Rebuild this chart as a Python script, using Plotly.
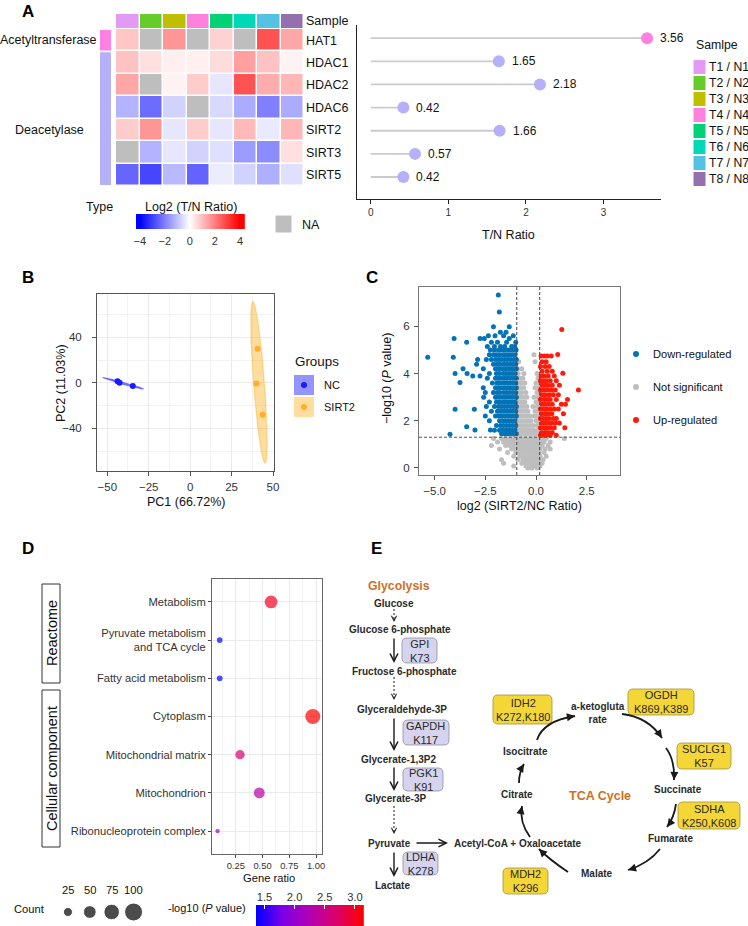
import numpy as np
import plotly.graph_objects as go

W, H = 748, 926
FONT = "Liberation Sans, Arial, Helvetica, sans-serif"
TXT = "#222222"
TICK = "#333333"


def fx(p):
    return p / W


def fy(p):
    return max(0.0, min(1.0, 1 - p / H))


# ======================= Panel A data =======================
samples = ["T1 / N1", "T2 / N2", "T3 / N3", "T4 / N4", "T5 / N5", "T6 / N6", "T7 / N7", "T8 / N8"]
sample_colors = ["#E39AF5", "#66CC2A", "#BFBF00", "#FF80DD", "#00D275", "#00D9B8", "#55C1E3", "#9370AE"]
genes = ["HAT1", "HDAC1", "HDAC2", "HDAC6", "SIRT2", "SIRT3", "SIRT5"]
gene_types = ["Acetyltransferase", "Deacetylase", "Deacetylase", "Deacetylase",
              "Deacetylase", "Deacetylase", "Deacetylase"]
type_names = ["Acetyltransferase", "Deacetylase"]
type_colors = ["#FF80E3", "#B5B0F7"]
log2_tn = [
    [0.9, None, 1.65, None, 0.7, None, 2.7, 1.4],
    [0.95, 0.5, 0.25, 0.25, 0.55, 1.5, 0.95, 0.2],
    [1.4, None, 0.2, 0.8, -0.4, 2.7, 1.3, 1.15],
    [-1.2, -2.3, -0.7, None, -0.6, -1.3, -2.0, -1.3],
    [0.8, 1.65, -0.4, 0.8, -0.4, 1.1, -0.35, 1.15],
    [None, -1.2, -0.4, -0.7, -0.5, -1.55, -1.8, 0.5],
    [-2.4, -2.9, -1.1, -2.45, -0.3, -0.7, -1.25, -0.5],
]
tn_ratio = [3.56, 1.65, 2.18, 0.42, 1.66, 0.57, 0.42]
heat_ticks = [-4, -2, 0, 2, 4]
NA_COLOR = "#BEBEBE"

# ======================= Panel B data =======================
pc_group_names = ["NC", "SIRT2"]
pc_group_colors = ["#1A1AFF", "#FFAE2E"]
pc_group_fill = ["rgba(0,0,255,0.42)", "rgba(255,165,0,0.38)"]
pc1_nc = [-43.8, -42.6, -34.6]
pc2_nc = [1.4, 0.2, -2.6]
pc1_sirt2 = [40.7, 40.0, 43.8]
pc2_sirt2 = [30.0, -0.5, -28.0]

# ======================= Panel C data =======================
down_rows = [
    (7.33, [-1.86]), (6.61, [-1.81]), (5.99, [-2.10, -1.32]),
    (5.75, [-1.48, -1.76]),
    (5.60, [-2.35, -2.02, -1.60, -1.12]),
    (5.49, [-4.04, -2.76, -2.55, -1.32]),
    (5.33, [-3.42, -2.20, -1.90, -1.45, -1.00]),
    (5.15, [-2.40, -2.05, -1.75, -1.55, -1.20, -1.05]),
    (5.00, [-2.25, -2.05, -1.85, -1.70, -1.55, -1.40, -1.25, -1.10, -0.98]),
    (4.80, [-2.30, -2.10, -1.95, -1.80, -1.62, -1.48, -1.33, -1.18, -1.03]),
    (4.69, [-5.34, -4.08]),
    (4.60, [-2.88, -2.45, -2.20, -2.00, -1.85, -1.70, -1.55, -1.40, -1.25, -1.10, -0.97]),
    (4.40, [-2.93, -2.10, -1.92, -1.78, -1.60, -1.45, -1.30, -1.15, -1.00]),
    (4.20, [-3.60, -2.60, -2.00, -1.85, -1.70, -1.55, -1.40, -1.25, -1.10, -0.97]),
    (4.00, [-3.99, -3.40, -2.30, -1.95, -1.80, -1.62, -1.48, -1.33, -1.18, -1.03]),
    (3.90, [-3.12, -2.76]),
    (3.80, [-2.40, -2.00, -1.85, -1.70, -1.55, -1.40, -1.25, -1.10, -0.97]),
    (3.62, [-3.75]),
    (3.60, [-2.15, -1.92, -1.78, -1.60, -1.45, -1.30, -1.15, -1.00]),
    (3.40, [-2.60, -2.00, -1.85, -1.70, -1.55, -1.40, -1.25, -1.10, -0.97]),
    (3.20, [-2.50, -2.10, -1.92, -1.78, -1.60, -1.45, -1.30, -1.15, -1.00]),
    (3.00, [-2.58, -2.00, -1.85, -1.70, -1.55, -1.40, -1.25, -1.10, -0.97]),
    (2.80, [-2.30, -1.95, -1.80, -1.62, -1.48, -1.33, -1.18, -1.03]),
    (2.60, [-2.45, -2.05, -1.85, -1.70, -1.55, -1.40, -1.25, -1.10, -0.97]),
    (2.49, [-3.99, -3.04]),
    (2.40, [-2.20, -1.90, -1.75, -1.60, -1.45, -1.30, -1.15, -1.00]),
    (2.20, [-2.50, -2.00, -1.85, -1.70, -1.55, -1.40, -1.25, -1.10, -0.97]),
    (2.00, [-2.30, -1.80, -1.65, -1.50, -1.35, -1.20, -1.05]),
    (1.80, [-1.95, -1.75, -1.60, -1.45, -1.30, -1.15, -1.00]),
    (1.75, [-3.42]),
    (1.61, [-3.01, -2.25]),
    (1.60, [-2.05, -1.80, -1.65, -1.50, -1.35, -1.20, -1.05]),
    (1.45, [-1.70, -1.55, -1.40, -1.25, -1.10, -0.97]),
    (1.43, [-4.24]),
]
ns_rows = [
    (4.80, [-0.10]),
    (4.50, [-0.85, -0.05]),
    (4.20, [-0.90, -0.70]),
    (4.00, [-0.88, -0.60, 0.05]),
    (3.80, [-0.80, -0.65, 0.10]),
    (3.60, [-0.85, -0.72, -0.55, 0.00, 0.12]),
    (3.40, [-0.90, -0.75, -0.60, -0.05, 0.10]),
    (3.20, [-0.85, -0.70, -0.50, 0.05, 0.15]),
    (3.00, [-0.90, -0.75, -0.60, -0.45, -0.10, 0.08]),
    (2.80, [-0.85, -0.70, -0.55, 0.00, 0.12]),
    (2.60, [-0.90, -0.75, -0.60, -0.45, -0.15, 0.05, 0.15]),
    (2.40, [-0.85, -0.70, -0.55, -0.40, -0.05, 0.10]),
    (2.20, [-0.90, -0.75, -0.60, -0.45, -0.30, -0.10, 0.05, 0.15]),
    (2.00, [-0.85, -0.70, -0.55, -0.40, -0.25, 0.00, 0.12]),
    (1.80, [-0.90, -0.75, -0.60, -0.45, -0.30, -0.15, 0.05, 0.15]),
    (1.60, [-0.85, -0.70, -0.55, -0.40, -0.25, -0.10, 0.10]),
    (1.45, [-0.90, -0.75, -0.60, -0.45, -0.30, -0.15, 0.00, 0.15]),
    (1.25, [-2.10, -1.70, -1.50, -1.30, -1.10, -0.90, -0.70, -0.50, -0.30, -0.10, 0.10, 0.30, 0.50, 1.40]),
    (1.10, [-1.90, -1.60, -1.40, -1.20, -1.00, -0.80, -0.60, -0.40, -0.20, 0.00, 0.20, 0.40, 0.70]),
    (0.95, [-2.20, -1.50, -1.30, -1.10, -0.90, -0.70, -0.50, -0.30, -0.10, 0.10, 0.30, 0.60]),
    (0.80, [-1.80, -1.20, -1.00, -0.80, -0.60, -0.40, -0.20, 0.00, 0.20, 0.45, 0.70]),
    (0.65, [-1.40, -1.00, -0.85, -0.65, -0.45, -0.25, -0.05, 0.15, 0.40]),
    (0.50, [-1.10, -0.80, -0.60, -0.40, -0.20, 0.00, 0.20, 0.50]),
    (0.35, [-1.70, -0.90, -0.65, -0.45, -0.25, -0.05, 0.15, 0.35]),
    (0.20, [-1.60, -0.70, -0.50, -0.30, -0.10, 0.10, 0.30]),
    (0.08, [-1.10, -0.50, -0.30, -0.15, 0.00, 0.20]),
    (0.00, [-0.40, -0.20, 0.05]),
]
up_rows = [
    (5.87, [1.27]),
    (4.81, [1.07]),
    (4.75, [0.25, 0.40, 0.55, 0.75]),
    (4.50, [0.30, 0.50]),
    (4.30, [0.22, 0.45, 0.65]),
    (4.10, [0.30, 0.55, 0.80]),
    (4.01, [1.32]),
    (3.90, [0.25, 0.40, 0.60, 0.90]),
    (3.70, [0.22, 0.35, 0.50, 0.70, 1.00]),
    (3.50, [0.30, 0.45, 0.60, 0.80, 1.15]),
    (3.30, [0.22, 0.38, 0.55, 0.75, 0.95, 2.09]),
    (3.10, [0.28, 0.45, 0.65, 0.85, 1.10]),
    (2.90, [0.22, 0.40, 0.55, 0.70, 1.00, 1.55]),
    (2.70, [0.30, 0.45, 0.62, 0.80, 1.25, 1.45]),
    (2.50, [0.22, 0.38, 0.52, 0.70, 0.90, 1.10]),
    (2.30, [0.28, 0.45, 0.60, 0.78, 1.35]),
    (2.10, [0.22, 0.35, 0.50, 0.65, 0.85, 1.00]),
    (1.90, [0.30, 0.45, 0.60, 0.75, 0.95, 1.15]),
    (1.70, [0.22, 0.38, 0.52, 0.70, 0.90, 1.42]),
    (1.50, [0.28, 0.45, 0.60, 0.80]),
    (1.38, [0.22, 0.35, 0.50, 0.70, 1.00]),
]
volcano_classes = ["Down-regulated", "Not significant", "Up-regulated"]
volcano_colors = ["#0373B8", "#BEBEBE", "#FF1A0A"]
fc_down, fc_up, p_cut = -0.95, 0.18, 1.301

# ======================= Panel D data =======================
terms = ["Metabolism", "Pyruvate metabolism<br>and TCA cycle", "Fatty acid metabolism",
         "Cytoplasm", "Mitochondrial matrix", "Mitochondrion", "Ribonucleoprotein complex"]
term_db = ["Reactome", "Reactome", "Reactome", "Cellular component", "Cellular component",
           "Cellular component", "Cellular component"]
gene_ratio = [0.58, 0.10, 0.10, 0.97, 0.29, 0.47, 0.08]
term_count = [50, 10, 10, 70, 27, 37, 6]
term_nlogp = [3.00, 1.36, 1.36, 3.15, 2.65, 2.32, 2.05]
count_legend = [25, 50, 75, 100]
nlogp_ticks = [1.5, 2.0, 2.5, 3.0]
DOT_CS = [[0, "#0000FF"], [0.25, "#7D00E6"], [0.5, "#B200B2"], [0.75, "#DB0068"], [1, "#FF0000"]]

# ======================= Panel E data =======================
glyco_nodes = [("Glucose", 394, 603), ("Glucose 6-phosphate", 400, 629), ("Fructose 6-phosphate", 404, 671),
               ("Glyceraldehyde-3P", 402, 709), ("Glycerate-1,3P2", 398, 759), ("Glycerate-3P", 395, 798),
               ("Pyruvate", 389, 843), ("Lactate", 392, 885), ("Acetyl-CoA + Oxaloacetate", 518, 843)]
tca_nodes = [("a-ketogluta<br>rate", 598, 713), ("Isocitrate", 525, 751), ("Citrate", 517, 794),
             ("Succinate", 678, 789), ("Fumarate", 670, 838), ("Malate", 597, 873)]
glyco_enzymes = [("GPI", "K73"), ("GAPDH", "K117"), ("PGK1", "K91"), ("LDHA", "K278")]
tca_enzymes = [("IDH2", "K272,K180"), ("OGDH", "K869,K389"), ("SUCLG1", "K57"),
               ("SDHA", "K250,K608"), ("MDH2", "K296")]

# ============================================================
fig = go.Figure()
HM_CS = [[0, "#0000FF"], [0.5, "#FFFFFF"], [1, "#FF0000"]]

# --- A: heatmap
fig.add_trace(go.Heatmap(z=log2_tn, x=samples, y=genes, colorscale=HM_CS, zmin=-4, zmax=4,
                         xgap=1.5, ygap=1.5, showscale=False, xaxis="x", yaxis="y", hoverongaps=False))
na_mask = [[1 if v is None else None for v in row] for row in log2_tn]
fig.add_trace(go.Heatmap(z=na_mask, x=samples, y=genes, colorscale=[[0, NA_COLOR], [1, NA_COLOR]],
                         zmin=0, zmax=1, xgap=1.5, ygap=1.5, showscale=False, xaxis="x", yaxis="y",
                         hoverongaps=False))
ns = len(samples)
fig.add_trace(go.Heatmap(z=[list(range(ns))], x=samples, y=["Sample"],
                         colorscale=[[i / (ns - 1), c] for i, c in enumerate(sample_colors)],
                         zmin=0, zmax=ns - 1, xgap=1.5, showscale=False, xaxis="x2", yaxis="y2"))
# A colour ramp legend
ramp_a = np.linspace(-4.3, 4.4, 300)
fig.add_trace(go.Heatmap(z=[ramp_a], x=ramp_a, y=[0], colorscale=HM_CS, zmin=-4, zmax=4,
                         showscale=False, xaxis="x7", yaxis="y7"))

# --- A: lollipop
seg_x, seg_y = [], []
for g, v in zip(genes, tn_ratio):
    seg_x += [0, v, None]
    seg_y += [g, g, None]
fig.add_trace(go.Scatter(x=seg_x, y=seg_y, mode="lines", line=dict(color="#CBCBCB", width=1.8),
                         xaxis="x3", yaxis="y3"))
tcol = dict(zip(type_names, type_colors))
fig.add_trace(go.Scatter(x=tn_ratio, y=genes, mode="markers",
                         marker=dict(size=12, color=[tcol[t] for t in gene_types], line=dict(width=0)),
                         xaxis="x3", yaxis="y3"))


# --- B: PCA
def conf_ellipse(xs, ys, k=2.4477, n=160):
    xs, ys = np.asarray(xs, float), np.asarray(ys, float)
    cov = np.cov(xs, ys)
    vals, vecs = np.linalg.eigh(cov)
    t = np.linspace(0, 2 * np.pi, n)
    circ = np.stack([np.cos(t), np.sin(t)])
    pts = vecs @ (np.sqrt(np.maximum(vals, 0))[:, None] * circ) * k
    return xs.mean() + pts[0], ys.mean() + pts[1]


for (px_, py_), fc, lc in zip([(pc1_nc, pc2_nc), (pc1_sirt2, pc2_sirt2)], pc_group_fill, pc_group_colors):
    ex, ey = conf_ellipse(px_, py_)
    fig.add_trace(go.Scatter(x=ex, y=ey, mode="lines", fill="toself", fillcolor=fc,
                             line=dict(color=fc, width=1.2), xaxis="x4", yaxis="y4"))
for (px_, py_), lc in zip([(pc1_nc, pc2_nc), (pc1_sirt2, pc2_sirt2)], pc_group_colors):
    fig.add_trace(go.Scatter(x=px_, y=py_, mode="markers", marker=dict(size=6, color=lc),
                             xaxis="x4", yaxis="y4"))


# --- C: volcano
def unroll(rows):
    xs, ys = [], []
    for y, xl in rows:
        xs += xl
        ys += [y] * len(xl)
    return xs, ys


for rows, col in zip([ns_rows, down_rows, up_rows], [volcano_colors[1], volcano_colors[0], volcano_colors[2]]):
    vx, vy = unroll(rows)
    fig.add_trace(go.Scatter(x=vx, y=vy, mode="markers", marker=dict(size=5, color=col, line=dict(width=0)),
                             xaxis="x5", yaxis="y5"))

# --- D: dot plot
dot_sizes = [1.8 * np.sqrt(c) for c in term_count]
cmin, cmax = min(term_nlogp), max(term_nlogp)
fig.add_trace(go.Scatter(x=gene_ratio, y=terms, mode="markers",
                         marker=dict(size=dot_sizes, sizemode="diameter", color=term_nlogp,
                                     colorscale=DOT_CS, cmin=cmin, cmax=cmax, showscale=False,
                                     line=dict(width=0)),
                         xaxis="x6", yaxis="y6"))
ramp_d = np.linspace(cmin, cmax, 300)
fig.add_trace(go.Heatmap(z=[ramp_d], x=ramp_d, y=[0], colorscale=DOT_CS, zmin=cmin, zmax=cmax,
                         showscale=False, xaxis="x8", yaxis="y8"))
fig.add_trace(go.Scatter(x=list(range(len(count_legend))), y=[0] * len(count_legend), mode="markers",
                         marker=dict(size=[1.8 * np.sqrt(c) for c in count_legend], color="black",
                                     sizemode="diameter"),
                         xaxis="x9", yaxis="y9"))

# ======================= axes =======================
tf = lambda s=11, c=TICK: dict(family=FONT, size=s, color=c)


def axis(domain, **kw):
    d = dict(domain=domain, showgrid=False, zeroline=False, showline=False, ticks="",
             tickfont=tf(), automargin=False)
    d.update(kw)
    return d


layout = dict(
    width=W, height=H, margin=dict(l=0, r=0, t=0, b=0), template="none",
    paper_bgcolor="white", plot_bgcolor="white", showlegend=False,
    font=dict(family=FONT, color=TXT),
)
layout["xaxis"] = axis([fx(116), fx(304)], anchor="y", visible=False, type="category")
layout["yaxis"] = axis([fy(186), fy(29)], anchor="x", side="right", type="category",
                       categoryorder="array", categoryarray=genes, autorange="reversed",
                       tickfont=tf(12.5, "#111"), ticklabelstandoff=1)
layout["xaxis2"] = axis([fx(116), fx(304)], anchor="y2", visible=False, type="category")
layout["yaxis2"] = axis([fy(28), fy(14)], anchor="x2", side="right", tickfont=tf(12.5, "#111"),
                        ticklabelstandoff=1)
layout["xaxis3"] = axis([fx(357), fx(661)], anchor="y3", range=[-0.178, 3.74], tickvals=[0, 1, 2, 3],
                        ticks="outside", ticklen=4, tickcolor="#222", showline=True, linecolor="#222",
                        linewidth=1.3, tickfont=tf(10))
layout["yaxis3"] = axis([fy(199), fy(25)], anchor="x3", type="category", categoryorder="array",
                        categoryarray=genes, range=[6.95, -0.57], showline=True, linecolor="#222",
                        linewidth=1.3, showticklabels=False)
grid = "#EBEBEB"
layout["xaxis4"] = axis([fx(97), fx(274)], anchor="y4", range=[-56.2, 50.6], tick0=0, dtick=25,
                        showgrid=True, gridcolor=grid, gridwidth=1,
                        minor=dict(dtick=12.5, tick0=0, showgrid=True, gridcolor=grid, gridwidth=0.6),
                        showline=True, mirror=True, linecolor="#555", linewidth=1,
                        ticks="outside", ticklen=4, tickcolor="#555", tickfont=tf(11.5), ticklabelstandoff=1)
layout["yaxis4"] = axis([fy(471), fy(294)], anchor="x4", range=[-77.4, 78.2], tick0=0, dtick=40,
                        showgrid=True, gridcolor=grid, gridwidth=1,
                        minor=dict(dtick=20, tick0=0, showgrid=True, gridcolor=grid, gridwidth=0.6),
                        showline=True, mirror=True, linecolor="#555", linewidth=1,
                        ticks="outside", ticklen=4, tickcolor="#555", tickfont=tf(11.5), ticklabelstandoff=8)
layout["xaxis5"] = axis([fx(419), fx(620)], anchor="y5", range=[-5.77, 4.14], tick0=0, dtick=2.5,
                        tickformat=".1f", showline=True, mirror=True, linecolor="#777", linewidth=1,
                        ticks="outside", ticklen=4, tickcolor="#555", tickfont=tf(11.5), ticklabelstandoff=1)
layout["yaxis5"] = axis([fy(475), fy(287)], anchor="x5", range=[-0.3, 7.67], tick0=0, dtick=2,
                        showline=True, mirror=True, linecolor="#777", linewidth=1,
                        ticks="outside", ticklen=4, tickcolor="#555", tickfont=tf(11.5), ticklabelstandoff=2)
layout["xaxis6"] = axis([fx(212), fx(322)], anchor="y6", range=[0.028, 1.056], tick0=0, dtick=0.25,
                        tickformat=".2f", showgrid=True, gridcolor=grid, gridwidth=1,
                        minor=dict(dtick=0.125, tick0=0, showgrid=True, gridcolor=grid, gridwidth=0.6),
                        showline=True, mirror=True, linecolor="#666", linewidth=1,
                        ticks="outside", ticklen=3, tickcolor="#444", tickfont=tf(9.4), ticklabelstandoff=0)
layout["yaxis6"] = axis([fy(854), fy(579)], anchor="x6", type="category", categoryorder="array",
                        categoryarray=terms, range=[6.6, -0.6], showgrid=True, gridcolor=grid, gridwidth=1,
                        showline=True, mirror=True, linecolor="#666", linewidth=1,
                        ticks="outside", ticklen=3, tickcolor="#444", tickfont=tf(11.2), ticklabelstandoff=0)
layout["xaxis7"] = axis([fx(136), fx(245)], anchor="y7", range=[-4.3, 4.4], tickvals=heat_ticks,
                        tickfont=tf(11), ticklabelstandoff=4)
layout["yaxis7"] = axis([fy(229), fy(214)], anchor="x7", visible=False)
layout["xaxis8"] = axis([fx(256), fx(364)], anchor="y8", range=[cmin, cmax], tickvals=nlogp_ticks,
                        tickformat=".1f", side="top", ticks="inside", ticklen=4, tickcolor="white",
                        tickwidth=1, tickfont=tf(11.2), ticklabelstandoff=1)
layout["yaxis8"] = axis([0.0, fy(905)], anchor="x8", visible=False)
layout["xaxis9"] = axis([fx(57), fx(144.5)], anchor="y9", range=[-0.5, 3.5], visible=False)
layout["yaxis9"] = axis([fy(922), fy(902)], anchor="x9", range=[-1, 1], visible=False)

ann = []
shapes = []


def txt(x, y, s, size=12, color=TXT, xanchor="center", yanchor="middle", **kw):
    d = dict(x=fx(x), y=fy(y), xref="paper", yref="paper", text=s, showarrow=False,
             font=dict(family=FONT, size=size, color=color), xanchor=xanchor, yanchor=yanchor)
    d.update(kw)
    return d


# panel letters
for letter, (lx, ly) in zip("ABCDE", [(28, 11), (28, 277), (372, 277), (28, 548), (376, 548)]):
    ann.append(txt(lx, ly, f"<b>{letter}</b>", size=17, color="#000"))

# --- A annotations
ann.append(dict(x=fx(99), y="HAT1", xref="paper", yref="y", text=type_names[0], showarrow=False,
                xanchor="right", font=dict(family=FONT, size=12.5, color="#111")))
ann.append(dict(x=fx(49.5), y="SIRT2", xref="paper", yref="y", text=type_names[1], showarrow=False,
                xanchor="center", font=dict(family=FONT, size=12.5, color="#111")))
idx_by_type = {t: [i for i, gt in enumerate(gene_types) if gt == t] for t in type_names}
for t, c in zip(type_names, type_colors):
    ids = idx_by_type[t]
    shapes.append(dict(type="rect", xref="paper", yref="y", x0=fx(100), x1=fx(111),
                       y0=min(ids) - 0.5 + 0.04, y1=max(ids) + 0.5 - 0.04, fillcolor=c,
                       line=dict(width=0), layer="above"))
for g, v in zip(genes, tn_ratio):
    ann.append(dict(x=v, y=g, xref="x3", yref="y3", text=f"{v:.2f}", showarrow=False, xanchor="left",
                    xshift=11, font=dict(family=FONT, size=12, color="#111")))
ann.append(txt(508, 235, "T/N Ratio", size=12.5, color="#111"))
ann.append(txt(99, 207, "Type", size=12.5, color="#111"))
ann.append(txt(191, 207, "Log2 (T/N Ratio)", size=12.5, color="#111"))
shapes.append(dict(type="rect", xref="paper", yref="paper", x0=fx(275), x1=fx(292), y0=fy(233), y1=fy(215),
                   fillcolor=NA_COLOR, line=dict(color="white", width=1)))
ann.append(txt(300, 225, "NA", size=12.5, color="#111", xanchor="left"))
ann.append(txt(694, 45, "Samlpe", size=12.3, color="#111", xanchor="left"))
for i, (s, c) in enumerate(zip(samples, sample_colors)):
    cy = 67 + 16 * i
    shapes.append(dict(type="rect", xref="paper", yref="paper", x0=fx(693), x1=fx(706),
                       y0=fy(cy + 7.5), y1=fy(cy - 7.5), fillcolor=c, line=dict(color="white", width=1)))
    ann.append(txt(707, cy, s, size=12.2, color="#111", xanchor="left"))

# --- B annotations
ann.append(txt(186, 502, "PC1 (66.72%)", size=12.5, color="#111"))
ann.append(txt(61, 383, "PC2 (11.03%)", size=12.5, color="#111", textangle=-90))
ann.append(txt(293, 361, "Groups", size=13.4, color="#111", xanchor="left"))
for i, (gname, fc, lc) in enumerate(zip(pc_group_names, pc_group_fill, pc_group_colors)):
    cy = 385 + 22 * i
    shapes.append(dict(type="rect", xref="paper", yref="paper", x0=fx(294), x1=fx(314),
                       y0=fy(cy + 10), y1=fy(cy - 10), fillcolor=fc, line=dict(width=0)))
    shapes.append(dict(type="circle", xref="paper", yref="paper", x0=fx(301), x1=fx(307),
                       y0=fy(cy + 3), y1=fy(cy - 3), fillcolor=lc, line=dict(width=0)))
    ann.append(txt(322, cy, gname, size=11, color="#111", xanchor="left"))

# --- C annotations
for xv in [fc_down, fc_up]:
    shapes.append(dict(type="line", xref="x5", yref="paper", x0=xv, x1=xv, y0=fy(475), y1=fy(287),
                       line=dict(color="#444", width=1, dash="3px,2px")))
shapes.append(dict(type="line", xref="paper", yref="y5", x0=fx(419), x1=fx(620), y0=p_cut, y1=p_cut,
                   line=dict(color="#555", width=1, dash="3px,2px")))
ann.append(txt(519, 506, "log2 (SIRT2/NC Ratio)", size=12.5, color="#111"))
ann.append(txt(387, 378, "\u2212log10 (<i>P</i> value)", size=12.5, color="#111", textangle=-90))
for i, (cname, col) in enumerate(zip(volcano_classes, volcano_colors)):
    cy = [354, 387, 420][i]
    shapes.append(dict(type="circle", xref="paper", yref="paper", x0=fx(633), x1=fx(639),
                       y0=fy(cy + 3), y1=fy(cy - 3), fillcolor=col, line=dict(width=0)))
    ann.append(txt(651, cy, cname, size=11.1, color="#111", xanchor="left"))

# --- D annotations
for db, (y0, y1) in zip(["Reactome", "Cellular component"], [(584, 683), (690, 847)]):
    shapes.append(dict(type="rect", xref="paper", yref="paper", x0=fx(42), x1=fx(60), y0=fy(y1), y1=fy(y0),
                       fillcolor="white", line=dict(color="#333", width=1)))
    ann.append(txt(51.5, (y0 + y1) / 2, db, size=14.5, color="#111", textangle=-90))
ann.append(txt(269, 878, "Gene ratio", size=11.2, color="#111"))
ann.append(txt(29, 909, "Count", size=11.2, color="#111"))
for i, c in enumerate(count_legend):
    ann.append(dict(x=i, y=fy(898), xref="x9", yref="paper", text=str(c), showarrow=False,
                    font=dict(family=FONT, size=11.2, color="#111")))
ann.append(txt(207, 908, "-log10 (<i>P</i> value)", size=11, color="#111"))

# --- E diagram
DARK = "#2A2A2A"
ORANGE = "#D0701E"
ann.append(txt(399, 586, "<b>Glycolysis</b>", size=12.3, color=ORANGE))
ann.append(txt(600, 796, "<b>TCA Cycle</b>", size=12.5, color=ORANGE))
for name, x, y in glyco_nodes + tca_nodes:
    ann.append(txt(x, y, f"<b>{name}</b>", size=10, color=DARK))


def rounded(x0, y0, x1, y1, r=5):
    p = [("M", x0 + r, y0), ("L", x1 - r, y0), ("Q", x1, y0, x1, y0 + r), ("L", x1, y1 - r),
         ("Q", x1, y1, x1 - r, y1), ("L", x0 + r, y1), ("Q", x0, y1, x0, y1 - r), ("L", x0, y0 + r),
         ("Q", x0, y0, x0 + r, y0)]
    out = []
    for seg in p:
        cmd, coords = seg[0], seg[1:]
        pts = " ".join(f"{fx(coords[j]):.5f},{fy(coords[j + 1]):.5f}" for j in range(0, len(coords), 2))
        out.append(f"{cmd} {pts}")
    return " ".join(out) + " Z"


glyco_boxes = [(402, 638, 437, 663), (403, 720, 449, 745), (403, 768, 443, 791), (403, 852, 438, 875)]
tca_boxes = [(493, 695, 552, 724), (628, 689, 694, 715), (677, 743, 731, 769), (678, 802, 740, 829),
             (503, 868, 548, 894)]
for (e1, e2), b in zip(glyco_enzymes, glyco_boxes):
    shapes.append(dict(type="path", xref="paper", yref="paper", path=rounded(*b), fillcolor="#D5D3EE",
                       line=dict(color="#8E8E9E", width=0.8)))
    ann.append(txt((b[0] + b[2]) / 2, (b[1] + b[3]) / 2, f"{e1}<br>{e2}", size=11, color=DARK))
for (e1, e2), b in zip(tca_enzymes, tca_boxes):
    shapes.append(dict(type="path", xref="paper", yref="paper", path=rounded(*b), fillcolor="#F4D636",
                       line=dict(color="#A0933E", width=0.8)))
    ann.append(txt((b[0] + b[2]) / 2, (b[1] + b[3]) / 2, f"{e1}<br>{e2}", size=11, color=DARK))


def arrow(x0, y0, x1, y1, head=5, width=1.4, size=1.1):
    return dict(x=fx(x1), y=fy(y1), xref="paper", yref="paper", ax=x0 - x1, ay=y0 - y1, text="",
                showarrow=True, arrowhead=head, arrowwidth=width, arrowsize=size, arrowcolor="#1A1A1A")


for (y0, y1) in [(637, 663), (717, 751), (766, 791), (851, 877)]:
    ann.append(arrow(394, y0, 394, y1))
ann.append(arrow(415, 843, 448, 843))
for (y0, y1) in [(609, 622), (677, 700), (806, 834)]:
    shapes.append(dict(type="line", xref="paper", yref="paper", x0=fx(394), x1=fx(394), y0=fy(y0),
                       y1=fy(y1 - 2), line=dict(color="#1A1A1A", width=1, dash="2px,2px")))
    ann.append(arrow(394, y1 - 5, 394, y1, head=5, width=1, size=1.0))

tca_arrows = [((537, 740), (543, 721), (575, 716)), ((622, 714), (648, 717), (662, 738)),
              ((666, 748), (675, 760), (674, 780)), ((676, 804), (674, 818), (667, 827)),
              ((660, 849), (648, 864), (628, 870)), ((568, 872), (550, 860), (539, 849)),
              ((530, 837), (519, 822), (522, 806)), ((519, 783), (519, 772), (524, 764))]
for (s, c, e) in tca_arrows:
    shapes.append(dict(type="path", xref="paper", yref="paper",
                       path=f"M {fx(s[0]):.5f},{fy(s[1]):.5f} Q {fx(c[0]):.5f},{fy(c[1]):.5f} "
                            f"{fx(e[0]):.5f},{fy(e[1]):.5f}",
                       line=dict(color="#1A1A1A", width=1.8)))
    dx, dy = c[0] - e[0], c[1] - e[1]
    n = np.hypot(dx, dy)
    ann.append(dict(x=fx(e[0]), y=fy(e[1]), xref="paper", yref="paper", ax=6 * dx / n, ay=6 * dy / n,
                    text="", showarrow=True, arrowhead=2, arrowwidth=1.8, arrowsize=0.9,
                    arrowcolor="#1A1A1A"))

layout["annotations"] = ann
layout["shapes"] = shapes
fig.update_layout(**layout)
fig.write_html("out.html", config={"displayModeBar": False, "staticPlot": True},
               post_script="document.body.style.margin='0';document.body.style.overflow='hidden';")
